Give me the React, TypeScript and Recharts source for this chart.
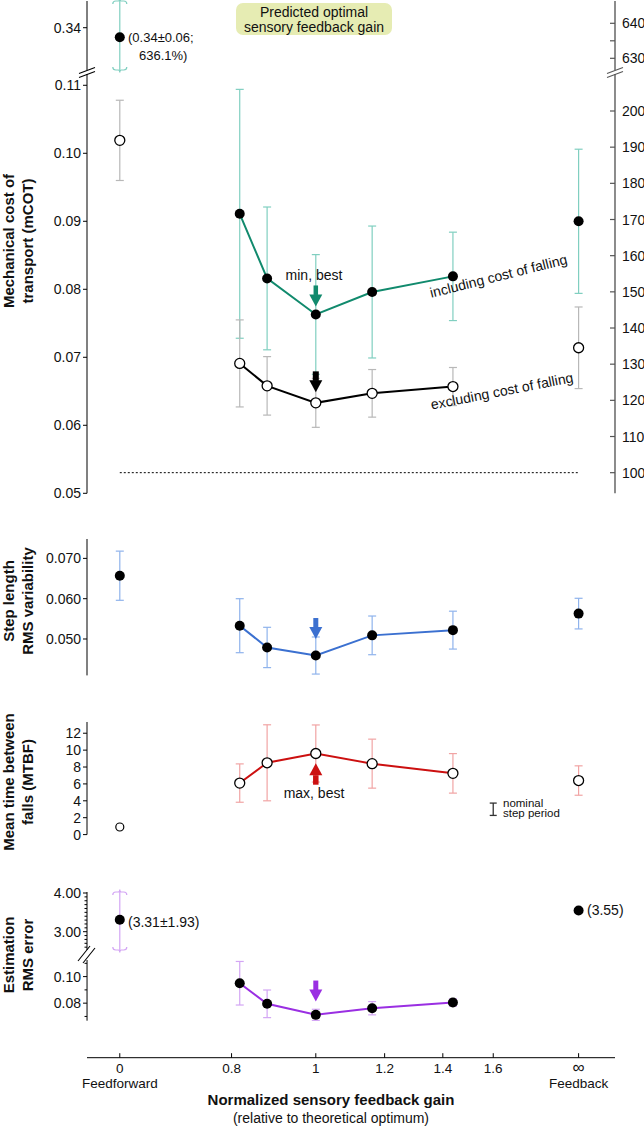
import React from 'react';
import { ComposedChart, Line, Scatter, XAxis, YAxis, ErrorBar, ReferenceLine } from 'recharts';

const FONT = '"Liberation Sans", Arial, Helvetica, sans-serif';
const W = 644;

// normalized feedback gain (log axis). "0" and "∞" are parked at fixed spots on it
const FF_X = 0.595;
const FB_X = 2.006;
const gains = [0.8175, 0.879, 1, 1.161, 1.438];
const xTicks = [FF_X, 0.8, 1, 1.2, 1.4, 1.6, FB_X];
const xTickLabels = ['0', '0.8', '1', '1.2', '1.4', '1.6', '∞'];
const xTickNames = ['Feedforward', '', '', '', '', '', 'Feedback'];

// mechanical cost of transport, including / excluding cost of falling
const mcotFalls = [0.0911, 0.0816, 0.0763, 0.0796, 0.0819];
const mcotFallsErr = [0.0183, 0.0105, 0.0088, 0.0097, 0.0065];
const mcotNoFalls = [0.0691, 0.0658, 0.0633, 0.0647, 0.0657];
const mcotNoFallsErr = [0.0064, 0.0043, 0.0036, 0.0035, 0.0028];
// [feedforward, feedback]
const mcotFallsEnds = [0.3386, 0.09];
const mcotFallsEndsErr = [0.06, 0.0106];
const mcotFallsFFPct = 636.1;
const mcotNoFallsEnds = [0.1019, 0.0714];
const mcotNoFallsEndsErr = [0.0059, 0.006];
const mcotNominalPct = 100;

// step length RMS variability
const stepVar = [0.0533, 0.0479, 0.0459, 0.0509, 0.0522];
const stepVarErr = [0.0067, 0.005, 0.0046, 0.0048, 0.0047];
const stepVarEnds = [0.0657, 0.0563];
const stepVarEndsErr = [0.0061, 0.0038];

// mean time between falls
const mtbf = [6.1, 8.5, 9.6, 8.4, 7.25];
const mtbfErr = [2.27, 4.5, 3.38, 2.9, 2.34];
const mtbfEnds = [0.9, 6.4];
const mtbfEndsErr = [0.12, 1.74];
const stepPeriodBar = [{ x: 1.6, y: 3.0, err: 0.73 }];

// estimation RMS error
const estErr = [0.095, 0.0795, 0.0712, 0.0762, 0.0805];
const estErrSd = [0.0164, 0.0104, 0.0042, 0.005, 0.0028];
const estEnds = [3.31, 3.55];
const estEndsSd = [1.93, 0.03];

// ticks
const mcotTicks = [0.05, 0.06, 0.07, 0.08, 0.09, 0.1, 0.11];
const mcotTopTicks = [0.34];
const pctTicks = [100, 110, 120, 130, 140, 150, 160, 170, 180, 190, 200];
const pctTopTicks = [630, 635, 640];
const pctTopLabels = [630, 640];
const stepTicks = [0.05, 0.06, 0.07];
const mtbfTicks = [0, 2, 4, 6, 8, 10, 12];
const estTopTicks = [2.6, 2.7, 2.8, 2.9, 3, 3.1, 3.2, 3.3, 3.4, 3.5, 3.6, 3.7, 3.8, 3.9, 4];
const estTopLabels = [3, 4];
const estLowTicks = [0.07, 0.08, 0.09, 0.1, 0.11];
const estLowLabels = [0.08, 0.1];

// domains (set so each panel lands where it does in the figure)
const X_DOMAIN = [0.5455, 2.209];
const MCOT_TOP = [0.33378, 0.34393];
const PCT_TOP = [626.66, 646.37];
const MCOT_MAIN = [0.05, 0.11166];
const PCT_MAIN = [94.3, 210.23];
const STEP_DOM = [0.04097, 0.07481];
const MTBF_DOM = [0, 13.33];
const EST_TOP = [2.527, 4.026];
const EST_LOW = [0.0668, 0.1125];

const GREEN = '#118a6d';
const TEAL_ERR = '#80cfc0';
const GRAY_ERR = '#b8b8b8';
const BLUE = '#3b70d0';
const BLUE_ERR = '#8fb3ec';
const RED = '#cc1010';
const RED_ERR = '#f1a4a4';
const PURPLE = '#9a2fe2';
const PURPLE_ERR = '#d3a5f4';

const series = (ys: number[], es: number[]) => gains.map((x, i) => ({ x, y: ys[i], err: es[i] }));
const braced = (y: number, e: number, dom: number[]) => [
  { x: FF_X, y: Math.min(y + e, dom[1]), cap: 1 },
  { x: FF_X, y: Math.max(y - e, dom[0]), cap: -1 },
];

const filledDot = (p: any) => <circle key={`f${p.index}`} cx={p.cx} cy={p.cy} r={5} fill="#000" />;
const openDot = (p: any) => (
  <circle key={`o${p.index}`} cx={p.cx} cy={p.cy} r={5} fill="#fff" stroke="#000" strokeWidth={1.3} />
);
const smallOpenDot = (p: any) => <circle cx={p.cx} cy={p.cy} r={4} fill="#fff" stroke="#000" strokeWidth={1.2} />;
const noShape = () => <g />;

const brace = (color: string) => (p: any) => {
  const { cx, cy } = p;
  const s = p.payload.cap;
  const d = `M${cx - 7},${cy + 3 * s} Q${cx - 7},${cy} ${cx - 4},${cy} L${cx - 1.5},${cy} Q${cx},${cy} ${cx},${cy - 2.5 * s} Q${cx},${cy} ${cx + 1.5},${cy} L${cx + 4},${cy} Q${cx + 7},${cy} ${cx + 7},${cy + 3 * s}`;
  return <path d={d} fill="none" stroke={color} strokeWidth={1.2} />;
};

const arrow = (color: string, dir: 'down' | 'up', gap: number, shaftW: number) => (p: any) => {
  const { cx, cy } = p;
  const s = dir === 'down' ? -1 : 1;
  const tip = cy + s * gap;
  const headEnd = tip + s * 12;
  const tail = headEnd + s * 9;
  return (
    <g>
      <rect x={cx - shaftW / 2} y={Math.min(headEnd, tail)} width={shaftW} height={9.5} fill={color} />
      <polygon points={`${cx},${tip} ${cx - 6.5},${headEnd} ${cx + 6.5},${headEnd}`} fill={color} />
    </g>
  );
};

const leftTick = (labels: number[] | null, digits: number) => (p: any) => {
  const v = Number(p.payload.value);
  const major = !labels || labels.some((l) => Math.abs(l - v) < 1e-9);
  const len = major ? 4 : 2.5;
  return (
    <g>
      <line x1={p.x - len} x2={p.x} y1={p.y} y2={p.y} stroke="#000" strokeWidth={1} />
      {major && (
        <text x={p.x - len - 2} y={p.y} dy="0.36em" textAnchor="end" fontSize={14} fontFamily={FONT} fill="#111">
          {v.toFixed(digits)}
        </text>
      )}
    </g>
  );
};

const rightTick = (labels: number[]) => (p: any) => {
  const v = Number(p.payload.value);
  const major = labels.includes(v);
  return (
    <g>
      <line x1={p.x - 5} x2={p.x} y1={p.y} y2={p.y} stroke="#555" strokeWidth={1.2} />
      {major && (
        <text x={p.x + 7} y={p.y} dy="0.36em" textAnchor="start" fontSize={14} fontFamily={FONT} fill="#111">
          {v}
        </text>
      )}
    </g>
  );
};

const xTick = (p: any) => {
  const i = xTicks.findIndex((t) => Math.abs(t - Number(p.payload.value)) < 1e-6);
  const isInf = xTickLabels[i] === '∞';
  return (
    <g>
      <line x1={p.x} x2={p.x} y1={p.y} y2={p.y - 4.5} stroke="#000" />
      <text x={p.x} y={p.y + 15.5} textAnchor="middle" fontSize={isInf ? 17 : 13.5} fontFamily={FONT} fill="#111">
        {xTickLabels[i]}
      </text>
      {xTickNames[i] && (
        <text x={p.x} y={p.y + 30} textAnchor="middle" fontSize={13.5} fontFamily={FONT} fill="#111">
          {xTickNames[i]}
        </text>
      )}
    </g>
  );
};

const hiddenX = <XAxis dataKey="x" type="number" scale="log" domain={X_DOMAIN} ticks={xTicks} hide />;

function Panel({ top, bottom, right = false, children }: any) {
  const pad = 12;
  const h = bottom - top + pad * 2;
  return (
    <div style={{ position: 'absolute', left: 0, top: top - pad, width: W, height: h }}>
      <ComposedChart width={W} height={h} margin={{ top: pad, bottom: pad, left: 0, right: right ? 0 : 29 }}>
        {hiddenX}
        {children}
      </ComposedChart>
    </div>
  );
}

const leftAxis = (domain: number[], ticks: number[], labels: number[] | null, digits: number) => (
  <YAxis
    yAxisId="l"
    domain={domain}
    ticks={ticks}
    width={87}
    interval={0}
    tickLine={false}
    tickSize={0}
    tickMargin={0}
    axisLine={{ stroke: '#000', strokeWidth: 1 }}
    tick={leftTick(labels, digits)}
  />
);

const rightAxis = (domain: number[], ticks: number[], labels: number[]) => (
  <YAxis
    yAxisId="r"
    orientation="right"
    domain={domain}
    ticks={ticks}
    width={29}
    interval={0}
    tickLine={false}
    tickSize={0}
    tickMargin={0}
    axisLine={{ stroke: '#666', strokeWidth: 1.5 }}
    tick={rightTick(labels)}
  />
);

const txt = { fontFamily: FONT, fill: '#111' };

export default function App() {
  return (
    <div style={{ position: 'absolute', left: 0, top: 0, width: W, height: 1128, background: '#fff', fontFamily: FONT }}>
      {/* predicted optimum line behind everything */}
      <div style={{ position: 'absolute', left: 0, top: 0, width: W, height: 1128 }}>
        <ComposedChart width={W} height={1128} margin={{ top: 35, bottom: 70, left: 87, right: 29 }}>
          {hiddenX}
          <YAxis hide domain={[0, 1]} />
          <ReferenceLine x={1} stroke="#dfe58a" strokeWidth={1} />
        </ComposedChart>
      </div>

      {/* mCOT, broken top segment */}
      <Panel top={1} bottom={70} right>
        {leftAxis(MCOT_TOP, mcotTopTicks, null, 2)}
        {rightAxis(PCT_TOP, pctTopTicks, pctTopLabels)}
        <Scatter
          yAxisId="l"
          dataKey="y"
          data={braced(mcotFallsEnds[0], mcotFallsEndsErr[0], MCOT_TOP)}
          line={{ stroke: TEAL_ERR, strokeWidth: 1.2 }}
          shape={brace(TEAL_ERR)}
          isAnimationActive={false}
        />
        <Scatter yAxisId="l" dataKey="y" data={[{ x: FF_X, y: mcotFallsEnds[0] }]} shape={filledDot} isAnimationActive={false} />
        {/* same point in % of nominal, keeps the right axis alive */}
        <Scatter yAxisId="r" dataKey="y" data={[{ x: FF_X, y: mcotFallsFFPct }]} shape={noShape} isAnimationActive={false} />
      </Panel>

      {/* mCOT, main segment */}
      <Panel top={74} bottom={493.3} right>
        {leftAxis(MCOT_MAIN, mcotTicks, null, 2)}
        {rightAxis(PCT_MAIN, pctTicks, pctTicks)}
        <Scatter
          yAxisId="r"
          dataKey="y"
          data={[
            { x: FF_X, y: mcotNominalPct },
            { x: FB_X, y: mcotNominalPct },
          ]}
          line={{ stroke: '#000', strokeWidth: 1, strokeDasharray: '2 2' }}
          shape={noShape}
          isAnimationActive={false}
        />
        <Line yAxisId="l" data={series(mcotFalls, mcotFallsErr)} dataKey="y" stroke={GREEN} strokeWidth={2} dot={filledDot} isAnimationActive={false}>
          <ErrorBar dataKey="err" direction="y" width={4} stroke={TEAL_ERR} strokeWidth={1.2} />
        </Line>
        <Scatter yAxisId="l" dataKey="y" data={[{ x: FB_X, y: mcotFallsEnds[1], err: mcotFallsEndsErr[1] }]} shape={filledDot} isAnimationActive={false}>
          <ErrorBar dataKey="err" direction="y" width={4} stroke={TEAL_ERR} strokeWidth={1.2} />
        </Scatter>
        <Line yAxisId="l" data={series(mcotNoFalls, mcotNoFallsErr)} dataKey="y" stroke="#000" strokeWidth={2} dot={openDot} isAnimationActive={false}>
          <ErrorBar dataKey="err" direction="y" width={4} stroke={GRAY_ERR} strokeWidth={1.2} />
        </Line>
        <Scatter
          yAxisId="l"
          dataKey="y"
          data={[
            { x: FF_X, y: mcotNoFallsEnds[0], err: mcotNoFallsEndsErr[0] },
            { x: FB_X, y: mcotNoFallsEnds[1], err: mcotNoFallsEndsErr[1] },
          ]}
          shape={openDot}
          isAnimationActive={false}
        >
          <ErrorBar dataKey="err" direction="y" width={4} stroke={GRAY_ERR} strokeWidth={1.2} />
        </Scatter>
        <Scatter yAxisId="l" dataKey="y" data={[{ x: gains[2], y: mcotFalls[2] }]} shape={arrow(GREEN, 'down', 8, 4.5)} isAnimationActive={false} />
        <Scatter yAxisId="l" dataKey="y" data={[{ x: gains[2], y: mcotNoFalls[2] }]} shape={arrow('#000', 'down', 10.5, 6)} isAnimationActive={false} />
      </Panel>

      {/* step length variability */}
      <Panel top={539.3} bottom={675.7}>
        {leftAxis(STEP_DOM, stepTicks, null, 3)}
        <Line yAxisId="l" data={series(stepVar, stepVarErr)} dataKey="y" stroke={BLUE} strokeWidth={2} dot={filledDot} isAnimationActive={false}>
          <ErrorBar dataKey="err" direction="y" width={4} stroke={BLUE_ERR} strokeWidth={1.2} />
        </Line>
        <Scatter
          yAxisId="l"
          dataKey="y"
          data={[
            { x: FF_X, y: stepVarEnds[0], err: stepVarEndsErr[0] },
            { x: FB_X, y: stepVarEnds[1], err: stepVarEndsErr[1] },
          ]}
          shape={filledDot}
          isAnimationActive={false}
        >
          <ErrorBar dataKey="err" direction="y" width={4} stroke={BLUE_ERR} strokeWidth={1.2} />
        </Scatter>
        <Scatter yAxisId="l" dataKey="y" data={[{ x: gains[2], y: stepVar[2] }]} shape={arrow(BLUE, 'down', 16.5, 5)} isAnimationActive={false} />
      </Panel>

      {/* mean time between falls */}
      <Panel top={721.7} bottom={834.3}>
        {leftAxis(MTBF_DOM, mtbfTicks, null, 0)}
        <Line yAxisId="l" data={series(mtbf, mtbfErr)} dataKey="y" stroke={RED} strokeWidth={2} dot={openDot} isAnimationActive={false}>
          <ErrorBar dataKey="err" direction="y" width={4} stroke={RED_ERR} strokeWidth={1.2} />
        </Line>
        <Scatter yAxisId="l" dataKey="y" data={[{ x: FB_X, y: mtbfEnds[1], err: mtbfEndsErr[1] }]} shape={openDot} isAnimationActive={false}>
          <ErrorBar dataKey="err" direction="y" width={4} stroke={RED_ERR} strokeWidth={1.2} />
        </Scatter>
        <Scatter yAxisId="l" dataKey="y" data={[{ x: FF_X, y: mtbfEnds[0] }]} shape={smallOpenDot} isAnimationActive={false} />
        <Scatter yAxisId="l" dataKey="y" data={[{ x: FF_X, y: mtbfEnds[0], err: mtbfEndsErr[0] }]} shape={noShape} isAnimationActive={false}>
          <ErrorBar dataKey="err" direction="y" width={3} stroke={RED_ERR} strokeWidth={1.2} />
        </Scatter>
        <Scatter yAxisId="l" dataKey="y" data={stepPeriodBar} shape={noShape} isAnimationActive={false}>
          <ErrorBar dataKey="err" direction="y" width={3.5} stroke="#333" strokeWidth={1.3} />
        </Scatter>
        <Scatter yAxisId="l" dataKey="y" data={[{ x: gains[2], y: mtbf[2] }]} shape={arrow(RED, 'up', 9.7, 5.5)} isAnimationActive={false} />
      </Panel>

      {/* estimation error, broken top segment */}
      <Panel top={892.3} bottom={950.3}>
        {leftAxis(EST_TOP, estTopTicks, estTopLabels, 2)}
        <Scatter
          yAxisId="l"
          dataKey="y"
          data={braced(estEnds[0], estEndsSd[0], EST_TOP)}
          line={{ stroke: PURPLE_ERR, strokeWidth: 1.2 }}
          shape={brace(PURPLE_ERR)}
          isAnimationActive={false}
        />
        <Scatter
          yAxisId="l"
          dataKey="y"
          data={[
            { x: FF_X, y: estEnds[0] },
            { x: FB_X, y: estEnds[1] },
          ]}
          shape={filledDot}
          isAnimationActive={false}
        />
        <Scatter yAxisId="l" dataKey="y" data={[{ x: FB_X, y: estEnds[1], err: estEndsSd[1] }]} shape={noShape} isAnimationActive={false}>
          <ErrorBar dataKey="err" direction="y" width={4} stroke={PURPLE_ERR} strokeWidth={1.2} />
        </Scatter>
      </Panel>

      {/* estimation error, main segment */}
      <Panel top={960} bottom={1020.7}>
        {leftAxis(EST_LOW, estLowTicks, estLowLabels, 2)}
        <Line yAxisId="l" data={series(estErr, estErrSd)} dataKey="y" stroke={PURPLE} strokeWidth={2} dot={filledDot} isAnimationActive={false}>
          <ErrorBar dataKey="err" direction="y" width={4} stroke={PURPLE_ERR} strokeWidth={1.2} />
        </Line>
        <Scatter yAxisId="l" dataKey="y" data={[{ x: gains[2], y: estErr[2] }]} shape={arrow(PURPLE, 'down', 13.3, 5)} isAnimationActive={false} />
      </Panel>

      {/* shared x axis (an invisible series at the tick positions so ticks get built) */}
      <div style={{ position: 'absolute', left: 0, top: 1000, width: W, height: 128 }}>
        <ComposedChart width={W} height={128} margin={{ top: 40, bottom: 50.3, left: 87, right: 29 }}>
          <XAxis
            dataKey="x"
            type="number"
            scale="log"
            domain={X_DOMAIN}
            ticks={xTicks}
            interval={0}
            height={20}
            tickLine={false}
            tickSize={0}
            tickMargin={0}
            axisLine={{ stroke: '#000', strokeWidth: 1 }}
            tick={xTick}
          />
          <YAxis hide domain={[0, 1]} />
          <Scatter dataKey="y" data={xTicks.map((x) => ({ x, y: 0 }))} shape={noShape} isAnimationActive={false} />
        </ComposedChart>
      </div>

      {/* titles, breaks and annotations */}
      <svg width={W} height={1128} style={{ position: 'absolute', left: 0, top: 0, pointerEvents: 'none' }}>
        <rect x={236} y={3} width={156} height={32} rx={7} fill="#e6ecb3" />
        <text x={314} y={16.5} textAnchor="middle" fontSize={14} {...txt}>Predicted optimal</text>
        <text x={314} y={31.5} textAnchor="middle" fontSize={14} {...txt}>sensory feedback gain</text>

        {/* axis breaks */}
        <g stroke="#000" strokeWidth={1.1}>
          <line x1={79} y1={73.5} x2={95} y2={67.5} />
          <line x1={79} y1={77.5} x2={95} y2={71.5} />
          <line x1={78} y1={961} x2={90} y2={946} />
          <line x1={83} y1={963} x2={95} y2={948} />
        </g>
        <g stroke="#555" strokeWidth={1.1}>
          <line x1={607} y1={73.5} x2={623} y2={67.5} />
          <line x1={607} y1={77.5} x2={623} y2={71.5} />
        </g>

        {/* y titles */}
        {[
          ['Mechanical cost of', 'transport (mCOT)', 241],
          ['Step length', 'RMS variability', 601],
          ['Mean time between', 'falls (MTBF)', 782],
          ['Estimation', 'RMS error', 955],
        ].map(([a, b, cy]) => (
          <g key={String(a)}>
            <text transform={`translate(14,${cy}) rotate(-90)`} textAnchor="middle" fontSize={15} fontWeight="bold" {...txt}>{a}</text>
            <text transform={`translate(33,${cy}) rotate(-90)`} textAnchor="middle" fontSize={15} fontWeight="bold" {...txt}>{b}</text>
          </g>
        ))}

        {/* x titles */}
        <text x={331} y={1104.5} textAnchor="middle" fontSize={15} fontWeight="bold" {...txt}>Normalized sensory feedback gain</text>
        <text x={331} y={1123} textAnchor="middle" fontSize={14} {...txt}>(relative to theoretical optimum)</text>

        {/* annotations */}
        <text x={128} y={42} fontSize={13} {...txt}>(0.34±0.06;</text>
        <text x={139} y={60} fontSize={13} {...txt}>636.1%)</text>
        <text x={314} y={279.5} textAnchor="middle" fontSize={14} {...txt}>min, best</text>
        <text x={498.5} y={276} dy="0.35em" textAnchor="middle" fontSize={14} transform="rotate(-14 498.5 276)" {...txt}>including cost of falling</text>
        <text x={502} y={391} dy="0.35em" textAnchor="middle" fontSize={14} transform="rotate(-11 502 391)" {...txt}>excluding cost of falling</text>
        <text x={314} y={798} textAnchor="middle" fontSize={14} {...txt}>max, best</text>
        <text x={503} y={806.5} fontSize={11.5} {...txt}>nominal</text>
        <text x={503} y={817} fontSize={11.5} {...txt}>step period</text>
        <text x={128} y={927} fontSize={14} {...txt}>(3.31±1.93)</text>
        <text x={587} y={915} fontSize={14} {...txt}>(3.55)</text>
      </svg>
    </div>
  );
}
